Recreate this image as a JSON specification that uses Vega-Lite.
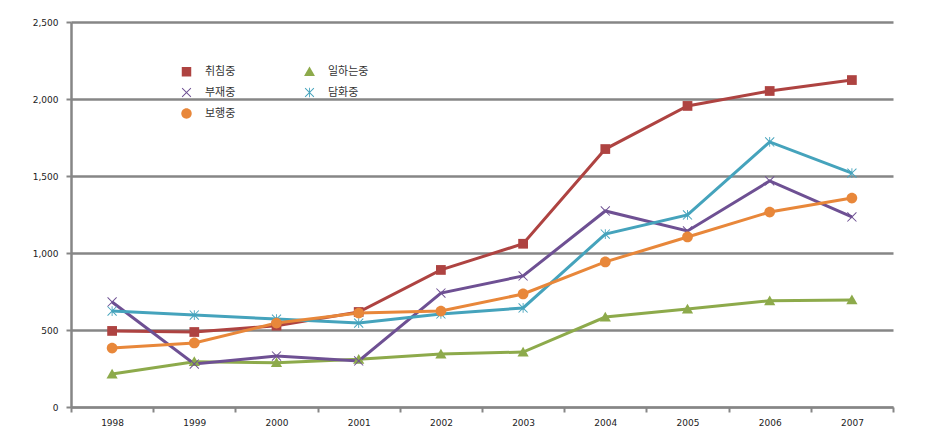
{
  "$schema": "https://vega.github.io/schema/vega-lite/v6.json",
  "width": 822,
  "height": 385,
  "autosize": {"type": "none"},
  "padding": {"left": 71, "top": 22, "right": 42, "bottom": 38},
  "background": "white",
  "data": {
    "values": [
      {"year": "1998", "series": "취침중", "value": 494},
      {"year": "1999", "series": "취침중", "value": 487},
      {"year": "2000", "series": "취침중", "value": 528},
      {"year": "2001", "series": "취침중", "value": 617},
      {"year": "2002", "series": "취침중", "value": 890},
      {"year": "2003", "series": "취침중", "value": 1060},
      {"year": "2004", "series": "취침중", "value": 1675},
      {"year": "2005", "series": "취침중", "value": 1955},
      {"year": "2006", "series": "취침중", "value": 2052},
      {"year": "2007", "series": "취침중", "value": 2123},
      {"year": "1998", "series": "일하는중", "value": 214},
      {"year": "1999", "series": "일하는중", "value": 294},
      {"year": "2000", "series": "일하는중", "value": 288},
      {"year": "2001", "series": "일하는중", "value": 310},
      {"year": "2002", "series": "일하는중", "value": 344},
      {"year": "2003", "series": "일하는중", "value": 357},
      {"year": "2004", "series": "일하는중", "value": 584},
      {"year": "2005", "series": "일하는중", "value": 636},
      {"year": "2006", "series": "일하는중", "value": 690},
      {"year": "2007", "series": "일하는중", "value": 695},
      {"year": "1998", "series": "부재중", "value": 682},
      {"year": "1999", "series": "부재중", "value": 279},
      {"year": "2000", "series": "부재중", "value": 331},
      {"year": "2001", "series": "부재중", "value": 299},
      {"year": "2002", "series": "부재중", "value": 740},
      {"year": "2003", "series": "부재중", "value": 851},
      {"year": "2004", "series": "부재중", "value": 1273},
      {"year": "2005", "series": "부재중", "value": 1143},
      {"year": "2006", "series": "부재중", "value": 1468},
      {"year": "2007", "series": "부재중", "value": 1234},
      {"year": "1998", "series": "담화중", "value": 623},
      {"year": "1999", "series": "담화중", "value": 597},
      {"year": "2000", "series": "담화중", "value": 571},
      {"year": "2001", "series": "담화중", "value": 545},
      {"year": "2002", "series": "담화중", "value": 604},
      {"year": "2003", "series": "담화중", "value": 643},
      {"year": "2004", "series": "담화중", "value": 1123},
      {"year": "2005", "series": "담화중", "value": 1247},
      {"year": "2006", "series": "담화중", "value": 1721},
      {"year": "2007", "series": "담화중", "value": 1519},
      {"year": "1998", "series": "보행중", "value": 383},
      {"year": "1999", "series": "보행중", "value": 416},
      {"year": "2000", "series": "보행중", "value": 545},
      {"year": "2001", "series": "보행중", "value": 610},
      {"year": "2002", "series": "보행중", "value": 623},
      {"year": "2003", "series": "보행중", "value": 734},
      {"year": "2004", "series": "보행중", "value": 942},
      {"year": "2005", "series": "보행중", "value": 1104},
      {"year": "2006", "series": "보행중", "value": 1266},
      {"year": "2007", "series": "보행중", "value": 1357}
    ]
  },
  "encoding": {
    "x": {
      "field": "year", "type": "ordinal", "title": null,
      "scale": {"paddingInner": 0, "paddingOuter": 0},
      "axis": {
        "labelAngle": 0, "tickBand": "extent", "grid": false,
        "domainColor": "#868686", "domainWidth": 2, "tickColor": "#868686", "tickWidth": 2,
        "tickSize": 5, "labelPadding": 6, "labelFont": "DejaVu Sans", "labelFontSize": 9,
        "labelColor": "#222222"
      }
    },
    "y": {
      "field": "value", "type": "quantitative", "title": null,
      "scale": {"domain": [0, 2500], "nice": false},
      "axis": {
        "values": [0, 500, 1000, 1500, 2000, 2500], "format": ",d",
        "grid": true, "gridColor": "#868686", "gridWidth": 2.5,
        "domainColor": "#868686", "domainWidth": 2.5, "tickColor": "#868686", "tickWidth": 2,
        "tickSize": 5, "labelPadding": 8, "labelFont": "DejaVu Sans", "labelFontSize": 9,
        "labelColor": "#222222"
      }
    },
    "color": {
      "field": "series", "type": "nominal",
      "scale": {
        "domain": ["취침중", "부재중", "보행중", "일하는중", "담화중"],
        "range": ["#AE4341", "#6E5093", "#E8873A", "#8DAA4B", "#45A3BC"]
      },
      "legend": {
        "title": null, "orient": "none", "legendX": 110, "legendY": 44, "columns": 2,
        "rowPadding": 9, "columnPadding": 68, "symbolSize": 90, "symbolStrokeWidth": 0,
        "labelFont": "Noto Sans CJK KR", "labelFontSize": 11, "labelColor": "#333333",
        "labelOffset": 13
      }
    }
  },
  "layer": [
    {
      "mark": {"type": "line", "strokeWidth": 3}
    },
    {
      "mark": {"type": "point", "filled": true, "opacity": 1, "size": 95},
      "encoding": {
        "shape": {
          "field": "series", "type": "nominal",
          "scale": {
            "domain": ["취침중", "부재중", "보행중", "일하는중", "담화중"],
            "range": [
              "M-1,-1L1,-1L1,1L-1,1Z",
              "M-1,-0.86L-0.86,-1L0,-0.14L0.86,-1L1,-0.86L0.14,0L1,0.86L0.86,1L0,0.14L-0.86,1L-1,0.86L-0.14,0Z",
              "M1.1,0A1.1,1.1,0,1,1,-1.1,0A1.1,1.1,0,1,1,1.1,0Z",
              "M0,-1.1L1.15,0.9L-1.15,0.9Z",
              "M-1,-0.86L-0.86,-1L0,-0.14L0.86,-1L1,-0.86L0.14,0L1,0.86L0.86,1L0,0.14L-0.86,1L-1,0.86L-0.14,0ZM-0.09,-1L0.09,-1L0.09,1L-0.09,1Z"
            ]
          }
        }
      }
    }
  ],
  "config": {
    "view": {"stroke": null}
  }
}
